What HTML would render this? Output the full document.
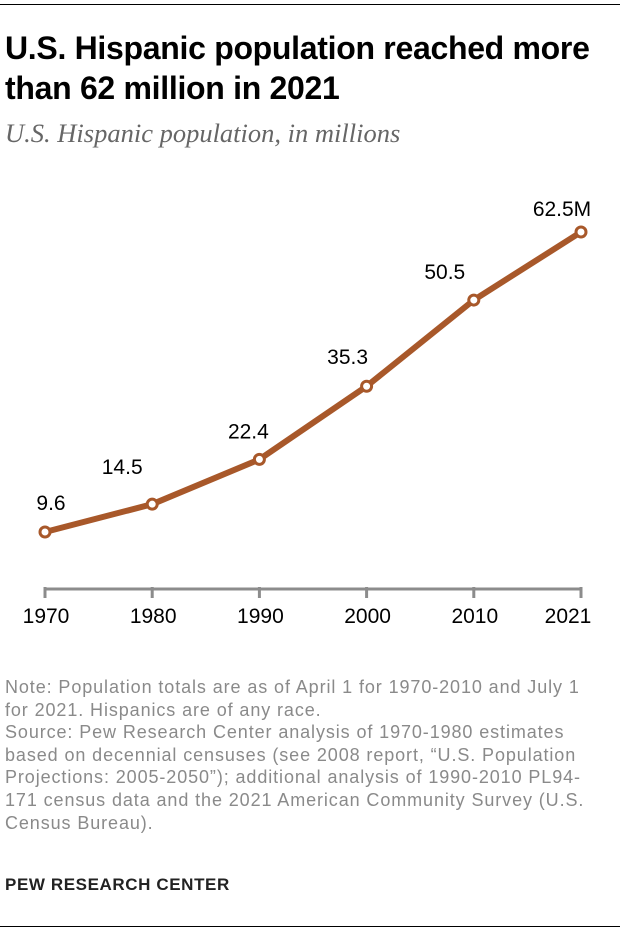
<!DOCTYPE html>
<html><head><meta charset="utf-8"><style>
body{margin:0;background:#fff;width:620px;height:934px;position:relative;overflow:hidden;font-family:"Liberation Sans",sans-serif}
.rule{position:absolute;left:0;width:620px;height:1px;background:#000}
#title{position:absolute;left:5px;top:28px;font-size:32px;font-weight:bold;line-height:40px;color:#000;letter-spacing:-0.3px}
#sub{position:absolute;left:5px;top:118px;font-family:"Liberation Serif",serif;font-style:italic;font-size:26.5px;color:#666}
#note{position:absolute;left:5px;top:676px;font-size:18px;line-height:22.6px;color:#8a8a8a;white-space:nowrap;letter-spacing:0.9px}
#brand{position:absolute;left:5px;top:875px;font-size:17px;font-weight:bold;color:#222;letter-spacing:0.6px}
svg{position:absolute;left:0;top:0}
</style></head><body>
<div class="rule" style="top:4px"></div>
<div id="title">U.S. Hispanic population reached more<br>than 62 million in 2021</div>
<div id="sub">U.S. Hispanic population, in millions</div>
<svg id="chart" width="620" height="660"></svg>
<div id="note">Note: Population totals are as of April 1 for 1970-2010 and July 1<br>for 2021. Hispanics are of any race.<br>Source: Pew Research Center analysis of 1970-1980 estimates<br>based on decennial censuses (see 2008 report, “U.S. Population<br>Projections: 2005-2050”); additional analysis of 1990-2010 PL94-<br>171 census data and the 2021 American Community Survey (U.S.<br>Census Bureau).</div>
<div id="brand">PEW RESEARCH CENTER</div>
<div class="rule" style="top:926px"></div>
<script>
const years=["1970","1980","1990","2000","2010","2021"];
const values=[9.6,14.5,22.4,35.3,50.5,62.5];
const labels=["9.6","14.5","22.4","35.3","50.5","62.5M"];
const svg=document.getElementById('chart');
const NS='http://www.w3.org/2000/svg';
const x=i=>45+i*107.2;
const y=v=>586.4-v*5.67;
const ldx=[6,-30,-11,-19,-29,-19];
const ldy=[-22,-30,-21,-22,-21,-16];
function mk(t,a){const e=document.createElementNS(NS,t);for(const k in a)e.setAttribute(k,a[k]);svg.appendChild(e);return e;}
const ax=mk('line',{x1:x(0),x2:x(years.length-1),y1:589,y2:589,stroke:'#8c8c8c','stroke-width':3});


years.forEach((yr,i)=>{
 const t=mk('line',{x1:x(i),x2:x(i),y1:587,y2:598,stroke:'#8c8c8c','stroke-width':3});
 
 
 const off=i==years.length-1?-13:1;
 const l=mk('text',{x:x(i)+off,y:623,'text-anchor':'middle','font-size':21,fill:'#000','font-family':'Liberation Sans, sans-serif'});
 l.textContent=yr;
 
 
});
const p=mk('polyline',{points:values.map((v,i)=>x(i)+','+y(v)).join(' '),fill:'none',stroke:'#a8582a','stroke-width':6,'stroke-linejoin':'round'});


values.forEach((v,i)=>{
 const c=mk('circle',{cx:x(i),cy:y(v),r:5,fill:'#fff',stroke:'#a8582a','stroke-width':3});
 
 
 const l=mk('text',{x:x(i)+ldx[i],y:y(v)+ldy[i],'text-anchor':'middle','font-size':21,fill:'#000','font-family':'Liberation Sans, sans-serif'});
 l.textContent=labels[i];
 
 
});
</script>
</body></html>
